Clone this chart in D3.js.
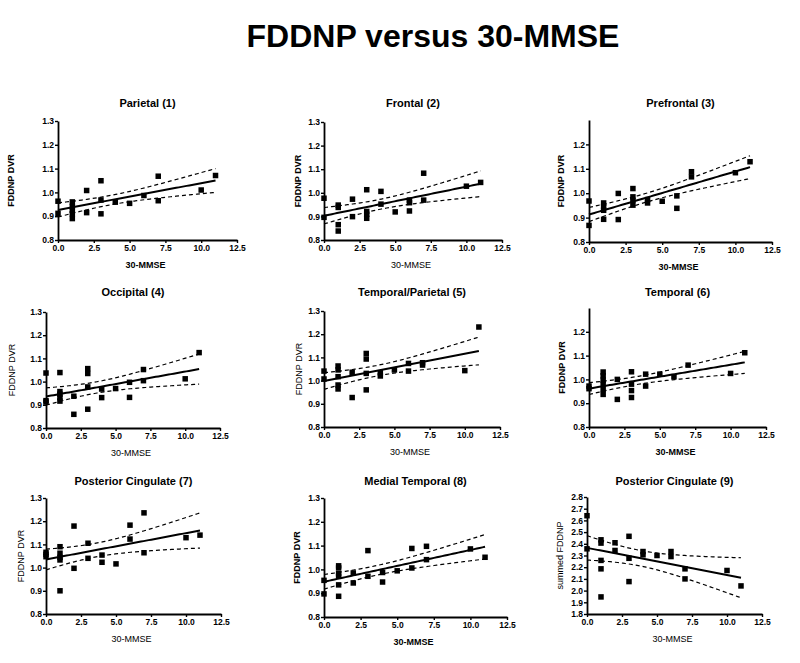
<!DOCTYPE html>
<html>
<head>
<meta charset="utf-8">
<script src="https://cdn.jsdelivr.net/npm/d3@7"></script>
<style>
  body { margin: 0; background: white; }
  svg { display: block; }
  text { font-family: Arial, "Liberation Sans", sans-serif; fill: black; }
</style>
</head>
<body>
<div id="chart"></div>
<script>
/* CONSTANTS AND GLOBALS */
const width = 800;
const height = 663;

/* DATA */
const titles = ["Parietal (1)", "Frontal (2)", "Prefrontal (3)", "Occipital (4)", "Temporal/Parietal (5)",
  "Temporal (6)", "Posterior Cingulate (7)", "Medial Temporal (8)", "Posterior Cingulate (9)"];
const yLabels = ["FDDNP DVR", "FDDNP DVR", "FDDNP DVR", "FDDNP DVR", "FDDNP DVR",
  "FDDNP DVR", "FDDNP DVR", "FDDNP DVR", "summed FDDNP"];
const xTicks = [0, 2.5, 5, 7.5, 10, 12.5];
const dvrTicks = [0.8, 0.9, 1.0, 1.1, 1.2, 1.3];
const dvrTicksShort = [0.8, 0.9, 1.0, 1.1, 1.2];
const summedTicks = [1.8, 1.9, 2.0, 2.1, 2.2, 2.3, 2.4, 2.5, 2.6, 2.7, 2.8];

const parietalX = [0, 0, 1, 1, 1, 1, 1, 2, 2, 3, 3, 3, 4, 5, 6, 7, 7, 10, 11];
const parietalY = [0.963, 0.912, 0.96, 0.94, 0.925, 0.91, 0.89, 1.008, 0.915, 1.049, 0.968, 0.91, 0.959, 0.954, 0.987, 1.068, 0.965, 1.01, 1.071];

const frontalX = [0, 0, 1, 1, 1, 1, 2, 2, 3, 3, 3, 3, 4, 4, 5, 6, 6, 6, 7, 7, 10, 11];
const frontalY = [0.977, 0.896, 0.948, 0.938, 0.865, 0.838, 0.973, 0.899, 1.013, 0.921, 0.909, 0.892, 1.006, 0.952, 0.919, 0.969, 0.958, 0.923, 1.083, 0.969, 1.028, 1.044];

const prefrontalX = [0, 0, 1, 1, 1, 1, 2, 2, 3, 3, 3, 3, 4, 4, 5, 6, 6, 7, 7, 10, 11];
const prefrontalY = [0.968, 0.868, 0.96, 0.945, 0.93, 0.893, 0.999, 0.892, 1.019, 0.985, 0.971, 0.951, 0.974, 0.96, 0.967, 0.989, 0.938, 1.088, 1.067, 1.084, 1.129];

const occipitalX = [0, 0, 0, 1, 1, 1, 1, 1, 2, 2, 3, 3, 3, 3, 4, 4, 5, 6, 6, 7, 7, 10, 11];
const occipitalY = [1.037, 0.918, 0.912, 1.039, 0.957, 0.946, 0.931, 0.916, 0.937, 0.859, 1.056, 1.035, 0.977, 0.881, 0.968, 0.931, 0.970, 0.997, 0.932, 1.052, 1.004, 1.012, 1.125];

const tempParX = [0, 0, 1, 1, 1, 1, 1, 2, 2, 3, 3, 3, 3, 4, 4, 5, 6, 6, 7, 7, 10, 11];
const tempParY = [1.041, 1.007, 1.063, 1.046, 1.017, 0.981, 0.964, 1.036, 0.927, 1.117, 1.093, 1.031, 0.960, 1.034, 1.020, 1.046, 1.074, 1.041, 1.077, 1.067, 1.043, 1.231];

const temporalX = [0, 0, 1, 1, 1, 1, 1, 1, 2, 2, 3, 3, 3, 3, 4, 4, 5, 6, 7, 10, 11];
const temporalY = [0.972, 0.961, 1.031, 1.015, 0.997, 0.980, 0.958, 0.937, 1.0, 0.916, 1.032, 0.98, 0.953, 0.924, 1.022, 0.972, 1.022, 1.011, 1.06, 1.025, 1.112];

const postCingX = [0, 0, 0, 1, 1, 1, 1, 1, 2, 2, 3, 3, 4, 4, 5, 6, 6, 7, 7, 10, 11];
const postCingY = [1.066, 1.057, 1.047, 1.090, 1.062, 1.044, 1.033, 0.90, 1.179, 0.997, 1.105, 1.040, 1.054, 1.023, 1.016, 1.183, 1.123, 1.236, 1.064, 1.129, 1.140];

const medTempX = [0, 0, 1, 1, 1, 1, 1, 1, 2, 2, 3, 3, 4, 4, 5, 6, 6, 7, 7, 10, 11];
const medTempY = [0.954, 0.897, 1.015, 1.006, 0.982, 0.971, 0.935, 0.887, 0.985, 0.943, 1.079, 0.971, 0.987, 0.947, 0.994, 1.088, 1.006, 1.097, 1.041, 1.086, 1.051];

const summedX = [0, 0, 1, 1, 1, 1, 1, 2, 2, 3, 3, 3, 4, 4, 5, 6, 6, 7, 7, 10, 11];
const summedY = [2.640, 2.357, 2.434, 2.406, 2.258, 2.186, 1.946, 2.409, 2.343, 2.464, 2.276, 2.077, 2.334, 2.306, 2.30, 2.334, 2.291, 2.186, 2.10, 2.172, 2.04];

/* LAYOUT (pixel boxes of each panel) */
const panels = [
  { xs: parietalX, ys: parietalY, xr: [58, 237], yr: [240, 121], dom: [0.8, 1.3], ticks: dvrTicks, labX: 11, titleY: 107, yBold: true, xBold: true },
  { xs: frontalX, ys: frontalY, xr: [324, 502], yr: [240, 122], dom: [0.8, 1.3], ticks: dvrTicks, labX: 298, titleY: 107, yBold: true, xBold: false },
  { xs: prefrontalX, ys: prefrontalY, xr: [589, 772], yr: [242, 120], dom: [0.8, 1.3], ticks: dvrTicksShort, labX: 561, titleY: 107, yBold: true, xBold: true },
  { xs: occipitalX, ys: occipitalY, xr: [46, 220], yr: [428, 312], dom: [0.8, 1.3], ticks: dvrTicks, labX: 12, titleY: 296, yBold: false, xBold: false },
  { xs: tempParX, ys: tempParY, xr: [324, 500], yr: [427, 311], dom: [0.8, 1.3], ticks: dvrTicks, labX: 299, titleY: 296, yBold: false, xBold: false },
  { xs: temporalX, ys: temporalY, xr: [589, 766], yr: [427, 308], dom: [0.8, 1.3], ticks: dvrTicksShort, labX: 562, titleY: 296, yBold: true, xBold: true },
  { xs: postCingX, ys: postCingY, xr: [46, 221], yr: [614, 498], dom: [0.8, 1.3], ticks: dvrTicks, labX: 21, titleY: 485, yBold: false, xBold: false },
  { xs: medTempX, ys: medTempY, xr: [324, 507], yr: [617, 498], dom: [0.8, 1.3], ticks: dvrTicks, labX: 297, titleY: 485, yBold: true, xBold: true },
  { xs: summedX, ys: summedY, xr: [587, 762], yr: [614, 497], dom: [1.8, 2.8], ticks: summedTicks, labX: 560, titleY: 485, yBold: false, xBold: false }
];

// two-sided 95% t values
const tTable = { 15: 2.131, 16: 2.120, 17: 2.110, 18: 2.101, 19: 2.093, 20: 2.086, 21: 2.080,
  22: 2.074, 23: 2.069, 24: 2.064, 25: 2.060, 26: 2.056, 27: 2.052, 28: 2.048 };

function linFit(xs, ys) {
  const n = xs.length;
  const mx = d3.mean(xs), my = d3.mean(ys);
  const sxx = d3.sum(xs, x => (x - mx) ** 2);
  const sxy = d3.sum(xs, (x, i) => (x - mx) * (ys[i] - my));
  const b = sxy / sxx, a = my - b * mx;
  const sse = d3.sum(xs, (x, i) => (ys[i] - (a + b * x)) ** 2);
  const s = Math.sqrt(sse / (n - 2));
  const t = tTable[n - 2] || 2.06;
  const xmin = d3.min(xs), xmax = d3.max(xs);
  return d3.range(0, 61).map(k => {
    const x = xmin + (xmax - xmin) * k / 60;
    const yhat = a + b * x;
    const half = t * s * Math.sqrt(1 / n + (x - mx) ** 2 / sxx);
    return { x, yhat, lo: yhat - half, hi: yhat + half };
  });
}

/* SVG */
const svg = d3.select("#chart")
  .append("svg")
  .attr("width", width)
  .attr("height", height)
  .style("background-color", "white");

svg.append("text")
  .attr("x", 433)
  .attr("y", 47)
  .attr("text-anchor", "middle")
  .style("font-size", "32px")
  .style("font-weight", "bold")
  .text("FDDNP versus 30-MMSE");

panels.forEach((p, i) => {
  const xScale = d3.scaleLinear().domain([0, 12.5]).range(p.xr);
  const yScale = d3.scaleLinear().domain(p.dom).range(p.yr);
  const g = svg.append("g");

  // title
  g.append("text")
    .attr("x", (p.xr[0] + p.xr[1]) / 2)
    .attr("y", p.titleY)
    .attr("text-anchor", "middle")
    .style("font-size", "11px")
    .style("font-weight", "bold")
    .text(titles[i]);

  // axes
  const xAxis = d3.axisBottom(xScale)
    .tickValues(xTicks)
    .tickFormat(d3.format(".1f"))
    .tickSize(3)
    .tickSizeOuter(0)
    .tickPadding(2);
  const yAxis = d3.axisLeft(yScale)
    .tickValues(p.ticks)
    .tickFormat(d3.format(".1f"))
    .tickSize(3)
    .tickSizeOuter(0)
    .tickPadding(1);

  const gx = g.append("g")
    .attr("transform", `translate(0,${p.yr[0]})`)
    .call(xAxis);
  const gy = g.append("g")
    .attr("transform", `translate(${p.xr[0]},0)`)
    .call(yAxis);

  [gx, gy].forEach(ax => {
    ax.select(".domain").attr("stroke", "black").attr("stroke-width", 1.8);
    ax.selectAll(".tick line").attr("stroke", "black").attr("stroke-width", 1.4);
    ax.selectAll(".tick text")
      .attr("fill", "black")
      .style("font-size", "8.5px")
      .style("font-weight", "bold")
      .style("font-family", "Arial, 'Liberation Sans', sans-serif");
  });

  // axis labels
  g.append("text")
    .attr("x", (p.xr[0] + p.xr[1]) / 2 - 2)
    .attr("y", p.yr[0] + 28)
    .attr("text-anchor", "middle")
    .style("font-size", "9px")
    .style("font-weight", p.xBold ? "bold" : "normal")
    .text("30-MMSE");

  g.append("text")
    .attr("transform", `translate(${p.labX + 3},${(p.yr[0] + p.yr[1]) / 2}) rotate(-90)`)
    .attr("text-anchor", "middle")
    .style("font-size", "9px")
    .style("font-weight", p.yBold ? "bold" : "normal")
    .text(yLabels[i]);

  // regression with 95% confidence bands
  const fit = linFit(p.xs, p.ys);
  const line = key => d3.line().x(d => xScale(d.x)).y(d => yScale(d[key]));

  ["lo", "hi"].forEach(key => {
    g.append("path")
      .datum(fit)
      .attr("d", line(key))
      .attr("fill", "none")
      .attr("stroke", "black")
      .attr("stroke-width", 1.2)
      .attr("stroke-dasharray", "4,3");
  });

  g.append("path")
    .datum(fit)
    .attr("d", line("yhat"))
    .attr("fill", "none")
    .attr("stroke", "black")
    .attr("stroke-width", 2);

  // points
  const sz = 5.5;
  g.selectAll(".pt")
    .data(p.xs.map((x, k) => ({ x, y: p.ys[k] })))
    .join("rect")
    .attr("class", "pt")
    .attr("x", d => xScale(d.x) - sz / 2)
    .attr("y", d => yScale(d.y) - sz / 2)
    .attr("width", sz)
    .attr("height", sz)
    .attr("fill", "black");
});
</script>
</body>
</html>
